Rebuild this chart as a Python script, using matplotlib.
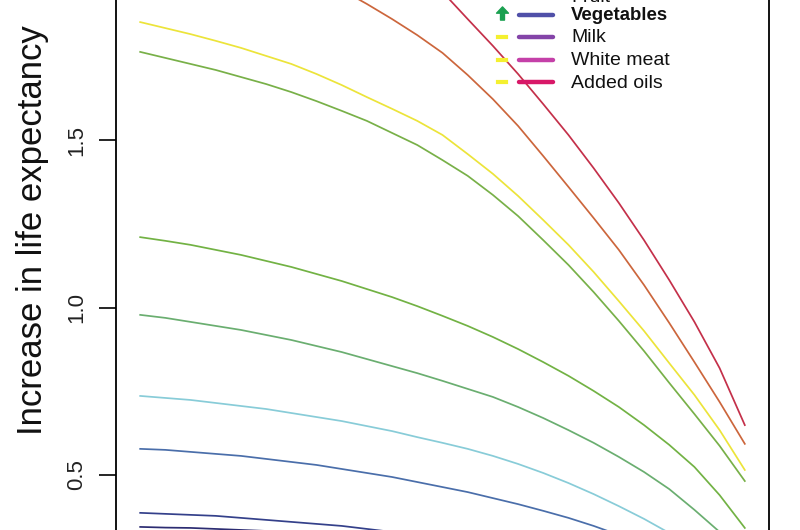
import matplotlib
matplotlib.use("Agg")
import matplotlib.pyplot as plt
from matplotlib.lines import Line2D
from matplotlib.path import Path

plt.rcParams['font.family'] = ['Liberation Sans', 'DejaVu Sans']

# age when the diet change starts
age = [20, 22.5, 25, 27.5, 30, 32.5, 35, 37.5, 40, 42.5, 45, 47.5, 50,
       52.5, 55, 57.5, 60, 62.5, 65, 67.5, 70, 72.5, 75, 77.5, 80]

red = [2.640, 2.599, 2.554, 2.506, 2.455, 2.401, 2.345, 2.285, 2.222, 2.157, 2.088, 2.016, 1.942,
       1.861, 1.781, 1.697, 1.607, 1.515, 1.416, 1.312, 1.201, 1.082, 0.957, 0.819, 0.649]
orange = [2.210, 2.184, 2.154, 2.124, 2.091, 2.058, 2.022, 1.987, 1.948, 1.906, 1.861, 1.813, 1.760,
          1.694, 1.622, 1.542, 1.452, 1.360, 1.267, 1.172, 1.067, 0.954, 0.837, 0.718, 0.593]
yellow = [1.852, 1.834, 1.816, 1.796, 1.775, 1.751, 1.727, 1.697, 1.664, 1.628, 1.593, 1.557, 1.515,
          1.458, 1.399, 1.333, 1.261, 1.187, 1.106, 1.019, 0.930, 0.834, 0.739, 0.634, 0.515]
green1 = [1.763, 1.745, 1.727, 1.709, 1.688, 1.667, 1.643, 1.616, 1.587, 1.557, 1.521, 1.485, 1.440,
          1.393, 1.336, 1.273, 1.201, 1.127, 1.046, 0.960, 0.870, 0.775, 0.682, 0.587, 0.482]
green2 = [1.210, 1.199, 1.187, 1.172, 1.157, 1.139, 1.121, 1.100, 1.079, 1.055, 1.031, 1.004, 0.975,
          0.945, 0.912, 0.876, 0.837, 0.796, 0.751, 0.703, 0.649, 0.590, 0.524, 0.440, 0.342]
green3 = [0.978, 0.969, 0.957, 0.945, 0.933, 0.918, 0.903, 0.885, 0.867, 0.846, 0.825, 0.804, 0.781,
          0.757, 0.733, 0.703, 0.670, 0.634, 0.596, 0.554, 0.509, 0.458, 0.396, 0.330, 0.258]
cyan = [0.736, 0.730, 0.724, 0.715, 0.706, 0.697, 0.685, 0.673, 0.661, 0.646, 0.631, 0.613, 0.596,
        0.578, 0.557, 0.533, 0.506, 0.476, 0.443, 0.407, 0.369, 0.327, 0.282, 0.234, 0.184]
blue = [0.578, 0.575, 0.569, 0.563, 0.557, 0.548, 0.539, 0.530, 0.518, 0.506, 0.494, 0.479, 0.464,
        0.449, 0.431, 0.413, 0.393, 0.372, 0.348, 0.321, 0.291, 0.258, 0.222, 0.184, 0.142]
darkblue = [0.387, 0.384, 0.381, 0.378, 0.372, 0.366, 0.360, 0.354, 0.348, 0.339, 0.330, 0.321, 0.309,
            0.297, 0.285, 0.270, 0.255, 0.237, 0.219, 0.199, 0.178, 0.154, 0.127, 0.100, 0.070]
navy = [0.345, 0.343, 0.342, 0.339, 0.336, 0.333, 0.330, 0.324, 0.318, 0.312, 0.303, 0.294, 0.285,
        0.273, 0.261, 0.246, 0.231, 0.213, 0.196, 0.175, 0.154, 0.130, 0.103, 0.076, 0.046]

series = [red, orange, yellow, green1, green2, green3, cyan, blue, darkblue, navy]
colors = ['#c4304a', '#cc663c', '#ece43a', '#78b048', '#72b244', '#6aae70',
          '#88ccd8', '#4a6eaa', '#34408a', '#2c2c72']

legend_labels = ['Fruit', 'Vegetables', 'Milk', 'White meat', 'Added oils']
legend_colors = ['#3a4aa0', '#5050a8', '#8444a8', '#c440a8', '#d81868']
legend_marks = ['none', 'up', 'same', 'same', 'same']

W, H = 800, 530
fig = plt.figure(figsize=(8, 5.3), dpi=100)

# axes box extends past the top and bottom of the picture (cropped plot)
ax = fig.add_axes([116 / W, (H - 642.5) / H, 653 / W, 670 / H])
for c, s in zip(colors, series):
    ax.plot(age, s, color=c, lw=1.25)

ax.set_xlim(17.6, 82.4)
ax.set_ylim(0, 2.0)
ax.set_yticks([0.5, 1.0, 1.5])
ax.set_yticklabels(['0.5', '1.0', '1.5'], rotation=90, va='center', fontsize=16, color='#222222')
ax.tick_params(axis='y', length=12, width=1.2, pad=9)
ax.set_xticks([])
ax.spines['top'].set_visible(False)
ax.spines['bottom'].set_visible(False)
ax.spines['left'].set_linewidth(1.3)
ax.spines['right'].set_linewidth(1.3)

fig.text(33 / W, 1 - 230 / H, 'Increase in life expectancy', rotation=90,
         ha='center', va='center', fontsize=25, color='#111111')

# legend drawn by hand, no box, lines pass behind it
def fx(x):
    return x / W

def fy(y):
    return 1 - y / H

arrow = Path([(-0.3, -1), (0.3, -1), (0.3, 0.05), (0.9, 0.05), (0, 1),
              (-0.9, 0.05), (-0.3, 0.05), (-0.3, -1)], closed=True)

ypix = [-8, 14.5, 37, 59.5, 82]
for lab, col, mk, y in zip(legend_labels, legend_colors, legend_marks, ypix):
    fig.add_artist(Line2D([fx(519), fx(553)], [fy(y), fy(y)], color=col, lw=3.2,
                          solid_capstyle='round', transform=fig.transFigure))
    if mk == 'up':
        fig.add_artist(Line2D([fx(502)], [fy(y - 1.5)], marker=arrow, markersize=9.5,
                              color='#1aa050', transform=fig.transFigure))
    elif mk == 'same':
        fig.add_artist(Line2D([fx(498), fx(506)], [fy(y), fy(y)], color='#f4f030', lw=3,
                              transform=fig.transFigure))
    bold = lab == 'Vegetables'
    ty = y + 1 if lab != 'Fruit' else -2.5
    fig.text(fx(571), fy(ty), lab, ha='left', va='center',
             fontsize=13.4 if bold else 14, color='#111111',
             fontweight='bold' if bold else 'normal')

fig.savefig('out.png', dpi=100)
